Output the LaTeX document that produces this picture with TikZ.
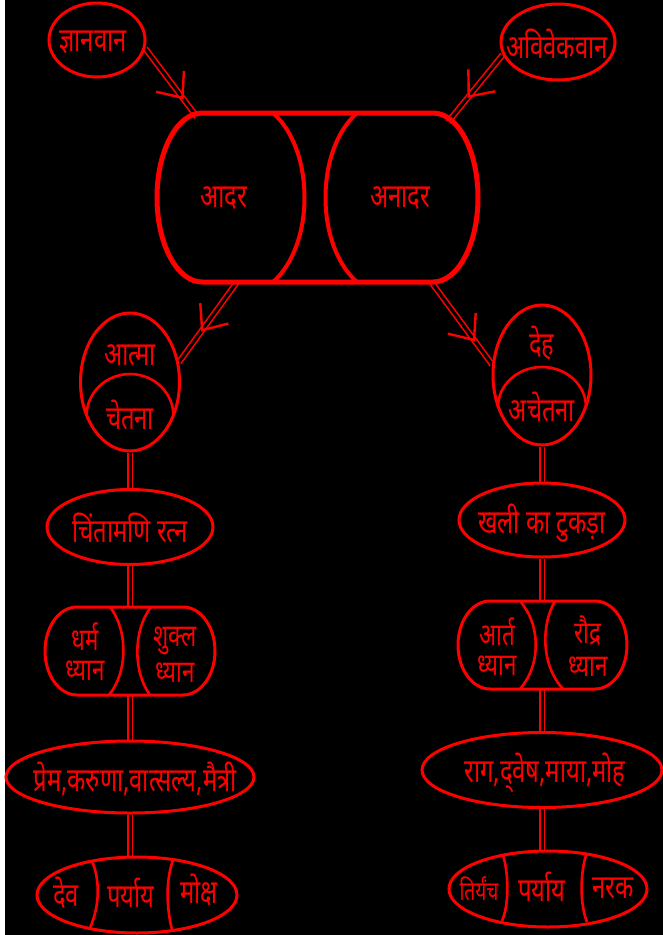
\documentclass[tikz,border=0pt]{standalone}
\usepackage{fontspec}
\newfontfamily\dev[Script=Devanagari,FakeStretch=0.72]{Noto Sans}
\usetikzlibrary{shapes.geometric,calc}
\pgfdeclarelayer{back}
\pgfdeclarelayer{conn}
\pgfsetlayers{back,conn,main}
\begin{document}
\begin{tikzpicture}[x=1pt,y=-1pt,
  lbl/.style={text=red, inner sep=0pt, align=center, font=\dev\fontsize{#1}{30}\selectfont},
  lbl/.default=33,
  oval/.style={ellipse, draw=red, line width=3pt, inner sep=0pt},
  dbl/.style={draw=red, line width=1.6pt, double=black, double distance=3pt},
  barb/.style={draw=red, line width=2.4pt},
  divider/.style={draw=red, line width=2.6pt},
  capsule/.style={draw=red, line width=3pt},
]
\begin{pgfonlayer}{back}
\fill[black] (0,0) rectangle (663,935);
\fill[white] (0,0) rectangle (5,935);
\end{pgfonlayer}
\useasboundingbox (0,0) rectangle (663,935);

% top ellipses
\node[oval, minimum width=96pt, minimum height=74pt] (n1) at (97,40) {};
\node[lbl] (t1) at (93,42) {ज्ञानवान};
\node[oval, minimum width=114pt, minimum height=76pt] (n2) at (558,42) {};
\node[lbl] (t2) at (557,44) {अविवेकवान};

% main capsule
\node[minimum width=321pt, minimum height=169pt, inner sep=0pt] (main) at (317.5,197.5) {};
\draw[red, line width=5pt] (202,113) -- (433,113)
  arc[start angle=270, end angle=450, x radius=45, y radius=84.5]
  -- (202,282) arc[start angle=90, end angle=270, x radius=45, y radius=84.5] -- cycle;
\draw[red, line width=4pt] (273,113) .. controls (315,150) and (315,245) .. (273,282);
\draw[red, line width=4pt] (357,113) .. controls (315,150) and (315,245) .. (357,282);
\node[lbl] (ta) at (224,198) {आदर};
\node[lbl] (tb) at (400,198) {अनादर};
\coordinate (mTL) at (197,117);
\coordinate (mTR) at (448,122);
\coordinate (mBL) at (237,282);
\coordinate (mBR) at (432,283);

% left column
\node[oval, minimum width=99pt, minimum height=138pt] (n3) at (130,382) {};
\draw[divider] (86.5,416) arc[start angle=180, end angle=360, x radius=43.5, y radius=42];
\node[lbl] (t3a) at (130,355) {आत्मा};
\node[lbl] (t3b) at (130,415) {चेतना};

\node[oval, minimum width=166pt, minimum height=75pt] (n4) at (130,527) {};
\node[lbl] (t4) at (130,528) {चिंतामणि रत्न};

\node[minimum width=170pt, minimum height=88pt, inner sep=0pt] (n7) at (130,651) {};
\draw[capsule] (77,607) -- (183,607)
  arc[start angle=270, end angle=450, x radius=32, y radius=44]
  -- (77,695) arc[start angle=90, end angle=270, x radius=32, y radius=44] -- cycle;
\draw[divider] (110,607) .. controls (128,630) and (128,672) .. (109,695);
\draw[divider] (151,607) .. controls (133,630) and (133,672) .. (150,695);
\node[lbl=31] (t7a) at (85,652) {धर्म\\ध्यान};
\node[lbl=31] (t7c) at (175,655) {शुक्ल\\[6pt]ध्यान};

\node[oval, minimum width=248pt, minimum height=72pt] (n8) at (130,777) {};
\node[lbl] (t8) at (135,779) {प्रेम,करुणा,वात्सल्य,मैत्री};

\node[oval, minimum width=200pt, minimum height=76pt] (n9) at (137,895) {};
\draw[divider] (92,861) .. controls (100,880) and (100,905) .. (90,928);
\draw[divider] (173,860) .. controls (166,880) and (166,905) .. (172,930);
\node[lbl] (t9a) at (66,893) {देव};
\node[lbl] (t9b) at (131,893) {पर्याय};
\node[lbl] (t9c) at (199,890) {मोक्ष};

% right column
\node[oval, minimum width=98pt, minimum height=140pt] (n5) at (542,375) {};
\draw[divider] (498,407) arc[start angle=180, end angle=360, x radius=44, y radius=40];
\node[lbl] (t5a) at (542,343) {देह};
\node[lbl] (t5b) at (542,407) {अचेतना};

\node[oval, minimum width=166pt, minimum height=74pt] (n6) at (542,520) {};
\node[lbl] (t6) at (542,523) {खली का टुकड़ा};

\node[minimum width=169pt, minimum height=88pt, inner sep=0pt] (n10) at (542.5,645) {};
\draw[capsule] (490,601) -- (595,601)
  arc[start angle=270, end angle=450, x radius=32, y radius=44]
  -- (490,689) arc[start angle=90, end angle=270, x radius=32, y radius=44] -- cycle;
\draw[divider] (520,601) .. controls (541,625) and (541,665) .. (520,689);
\draw[divider] (555,601) .. controls (541,625) and (541,665) .. (563,689);
\node[lbl=31] (t10a) at (497,647) {आर्त\\ध्यान};
\node[lbl=31] (t10c) at (588,646) {रौद्र\\[3pt]ध्यान};

\node[oval, minimum width=240pt, minimum height=75pt] (n11) at (542,770) {};
\node[lbl] (t11) at (545,773) {राग,द्‌वेष,माया,मोह};

\node[oval, minimum width=198pt, minimum height=76pt] (n12) at (548,889) {};
\draw[divider] (503,855) .. controls (509,875) and (509,905) .. (502,921);
\draw[divider] (586,855) .. controls (580,875) and (580,905) .. (587,922);
\node[lbl=26.5] (t12a) at (479,889) {तिर्यंच};
\node[lbl] (t12b) at (542,887) {पर्याय};
\node[lbl] (t12c) at (613,888) {नरक};

% connectors
\begin{pgfonlayer}{conn}
\draw[dbl] (n1.-10) -- (mTL);
\draw[dbl] (n2.193) -- (mTR);
\draw[dbl] (mBL) -- (n3.22);
\draw[dbl] (mBR) -- (n5.168);
\draw[dbl] (n3.south) -- (n3.south |- n4.north);
\draw[dbl] (n4.south) -- (n4.south |- n7.north);
\draw[dbl] (n7.south) -- (n7.south |- n8.north);
\draw[dbl] (n8.south) -- (n8.south |- n9.north);
\draw[dbl] (n5.south) -- (n5.south |- n6.north);
\draw[dbl] (n6.south) -- (n6.south |- n10.north);
\draw[dbl] (n6.south |- n10.south) -- (n11.north);
\draw[dbl] (n11.south) -- (n11.south |- n12.north);
\end{pgfonlayer}

% arrowheads
\coordinate (h1) at ($(n1.-10)!0.72!(mTL)$);
\draw[barb] ($(h1)!27pt!40:(n1.-10)$) -- (h1) -- ($(h1)!27pt!-40:(n1.-10)$);
\coordinate (h2) at ($(n2.193)!0.62!(mTR)$);
\draw[barb] ($(h2)!27pt!40:(n2.193)$) -- (h2) -- ($(h2)!27pt!-40:(n2.193)$);
\coordinate (h3) at ($(mBL)!0.6!(n3.22)$);
\draw[barb] ($(h3)!27pt!40:(mBL)$) -- (h3) -- ($(h3)!27pt!-40:(mBL)$);
\coordinate (h4) at ($(mBR)!0.7!(n5.168)$);
\draw[barb] ($(h4)!27pt!40:(mBR)$) -- (h4) -- ($(h4)!27pt!-40:(mBR)$);
\end{tikzpicture}
\end{document}
